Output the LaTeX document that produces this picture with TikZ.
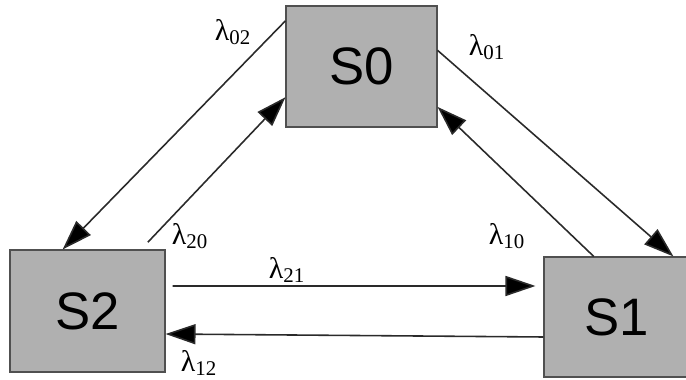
\documentclass[tikz,border=0pt]{standalone}
\usepackage{fontspec}
\setmainfont{Liberation Serif}
\setsansfont{Liberation Sans}
\usetikzlibrary{arrows.meta}
\definecolor{boxgray}{HTML}{B0B0B0}
\definecolor{edgegray}{HTML}{505050}
\definecolor{linegray}{HTML}{2A2A2A}
\begin{document}
\begin{tikzpicture}[>={Triangle[length=0.6cm,width=0.4cm,fill=black]},
  state/.style={draw=edgegray, fill=boxgray, rectangle, line width=0.6pt, font=\sffamily\fontsize{30}{32}\selectfont},
  trans/.style={->, draw=linegray, line width=0.9pt},
  rate/.style={font=\fontsize{17}{19}\selectfont, inner sep=0pt}]
\useasboundingbox (0,0) rectangle (13.72,7.6);
\node[state, minimum width=3.02cm, minimum height=2.42cm] (s0) at (7.23,6.27) {S0};
\node[state, minimum width=2.92cm, minimum height=2.4cm] (s1) at (12.34,1.26) {S1};
\node[state, minimum width=3.1cm, minimum height=2.44cm] (s2) at (1.75,1.38) {S2};
\draw[trans] (s0.149.5) -- (s2.112.7);
\draw[trans, shorten <=0.2cm] (s2.49.3) -- (s0.202);
\draw[trans] (s0.12.3) -- (s1.47.5);
\draw[trans] (s1.111.8) -- (s0.-28.2);
\draw[trans, shorten <=0.14cm, shorten >=0.16cm] ([yshift=0.5cm]s2.east) -- ([yshift=0.62cm]s1.west);
\draw[trans] ([yshift=-0.4cm]s1.west) -- ([yshift=-0.46cm]s2.east);
\node[rate] (l02) at (4.66,6.96) {λ\textsubscript{02}};
\node[rate] (l01) at (9.74,6.66) {λ\textsubscript{01}};
\node[rate] (l20) at (3.80,2.88) {λ\textsubscript{20}};
\node[rate] (l10) at (10.14,2.88) {λ\textsubscript{10}};
\node[rate] (l21) at (5.74,2.20) {λ\textsubscript{21}};
\node[rate] (l12) at (3.98,0.34) {λ\textsubscript{12}};
\end{tikzpicture}
\end{document}
